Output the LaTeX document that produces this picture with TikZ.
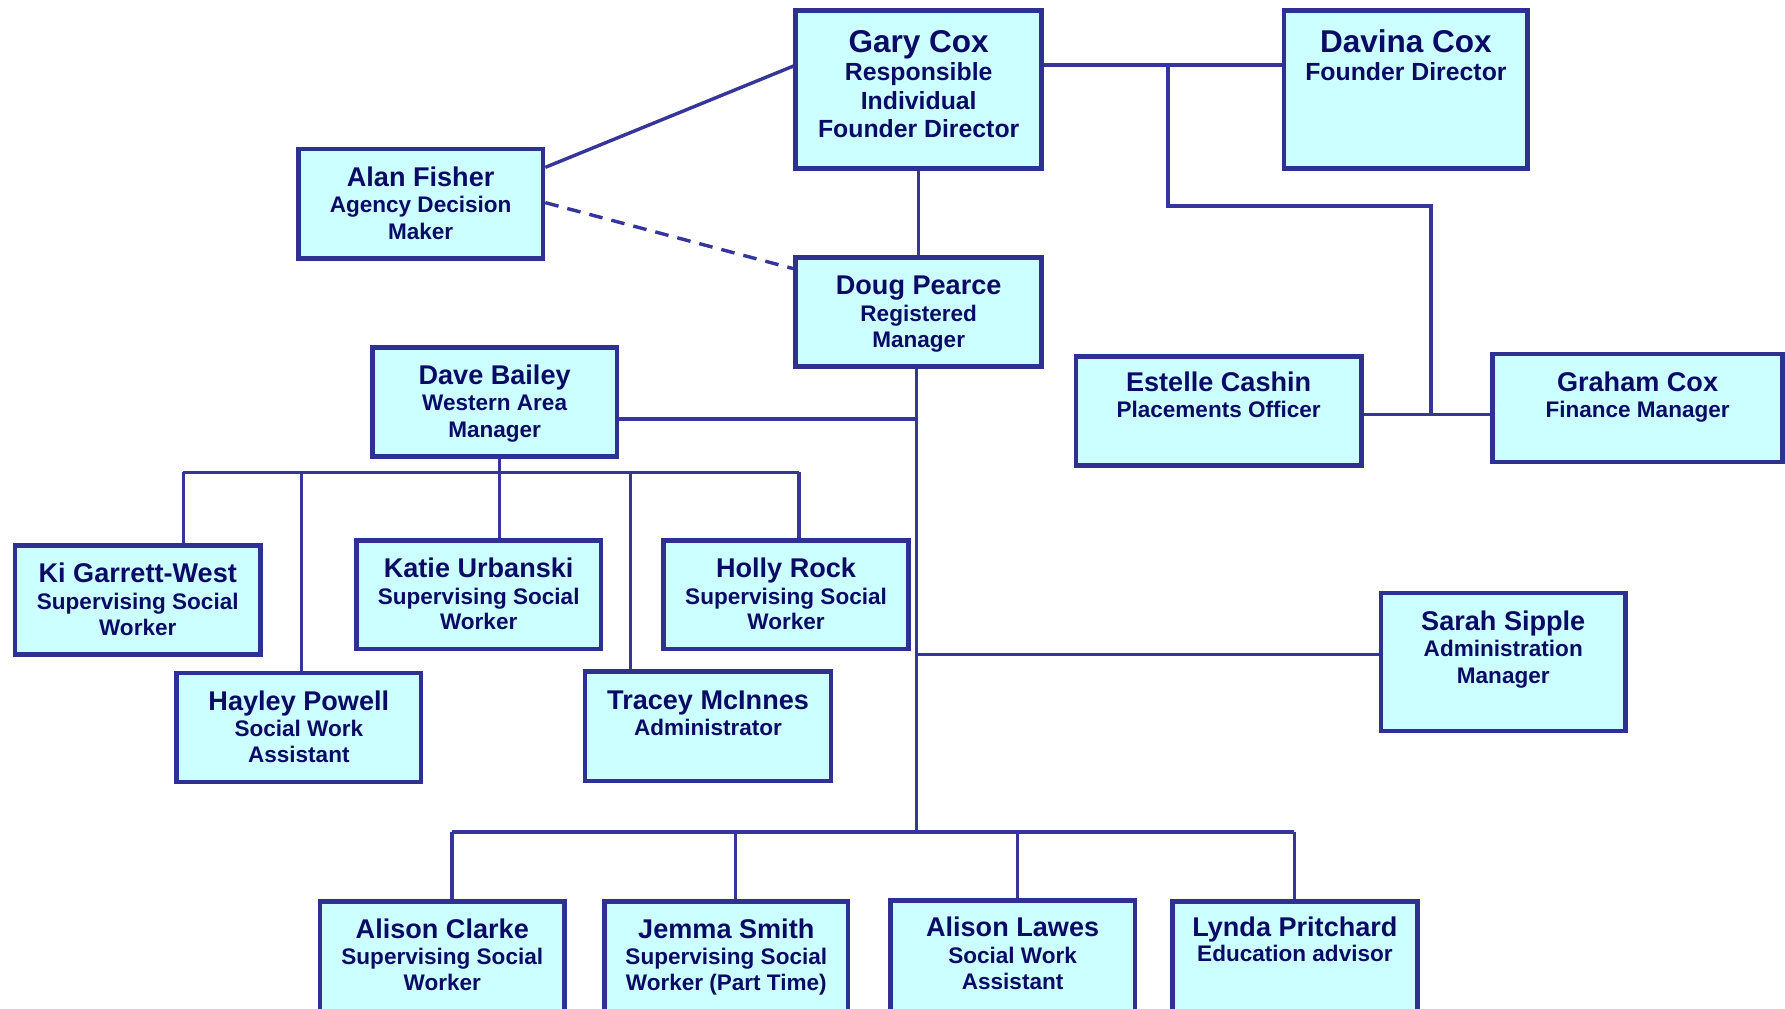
\documentclass[tikz,border=0pt]{standalone}
\usepackage{fontspec}
\setmainfont{Liberation Sans}
\usetikzlibrary{fit,calc}
\definecolor{boxfill}{HTML}{CCFFFF}
\definecolor{boxline}{HTML}{2E3192}
\definecolor{txtc}{HTML}{0B0B66}
\definecolor{linkc}{HTML}{35359A}
\begin{document}
\begin{tikzpicture}[x=0.5pt,y=-0.5pt,
 box/.style={draw=boxline, line width=2pt, fill=boxfill, inner sep=0pt},
 nm/.style={font=\fontsize{11.9}{14}\selectfont\bfseries, text=txtc, anchor=base, inner sep=0pt},
 sb/.style={font=\fontsize{9.9}{12}\selectfont\bfseries, text=txtc, anchor=base, inner sep=0pt},
 bignm/.style={font=\fontsize{13.85}{16}\selectfont\bfseries, text=txtc, anchor=base, inner sep=0pt},
 bigsb/.style={font=\fontsize{10.9}{13}\selectfont\bfseries, text=txtc, anchor=base, inner sep=0pt},
 link/.style={draw=linkc, line width=1.5pt},
 ]
\useasboundingbox (0,0) rectangle (1568,885.5);
\fill[white] (0,0) rectangle (1568,885.5);

% boxes
\node[box, fit={(699,9) (915,148)}] (gary) {};
\node[box, fit={(1128,9) (1342,148)}] (davina) {};
\node[box, fit={(262,131) (477,227)}] (alan) {};
\node[box, fit={(699,226) (915,322)}] (doug) {};
\node[box, fit={(327,305) (542,401)}] (dave) {};
\node[box, fit={(945,313) (1196,409)}] (estelle) {};
\node[box, fit={(1311,311) (1566,406)}] (graham) {};
\node[box, fit={(13,479) (229,575)}] (ki) {};
\node[box, fit={(313,475) (528,570)}] (katie) {};
\node[box, fit={(583,475) (798,570)}] (holly) {};
\node[box, fit={(155,591) (370,687)}] (hayley) {};
\node[box, fit={(514,590) (730,686)}] (tracey) {};
\node[box, fit={(1213,521) (1428,642)}] (sarah) {};
\node[box, fit={(281,792) (496,905)}] (alisonc) {};
\node[box, fit={(531,792) (745,905)}] (jemma) {};
\node[box, fit={(782,791) (997,905)}] (alisonl) {};
\node[box, fit={(1030,792) (1245,905)}] (lynda) {};

% texts
\node[bignm] (gary-n) at (807,46) {Gary Cox};
\node[bigsb] (gary-1) at (807,71) {Responsible};
\node[bigsb] (gary-2) at (807,96) {Individual};
\node[bigsb] (gary-3) at (807,121) {Founder Director};

\node[bignm] (davina-n) at (1235,46) {Davina Cox};
\node[bigsb] (davina-1) at (1235,71) {Founder Director};

\node[nm] (alan-n) at (369.5,164) {Alan Fisher};
\node[sb] (alan-1) at (369.5,187) {Agency Decision};
\node[sb] (alan-2) at (369.5,210) {Maker};

\node[nm] (doug-n) at (807,259) {Doug Pearce};
\node[sb] (doug-1) at (807,282) {Registered};
\node[sb] (doug-2) at (807,305) {Manager};

\node[nm] (dave-n) at (434.5,338) {Dave Bailey};
\node[sb] (dave-1) at (434.5,361) {Western Area};
\node[sb] (dave-2) at (434.5,384) {Manager};

\node[nm] (estelle-n) at (1070.5,344) {Estelle Cashin};
\node[sb] (estelle-1) at (1070.5,367) {Placements Officer};

\node[nm] (graham-n) at (1438.5,344) {Graham Cox};
\node[sb] (graham-1) at (1438.5,367) {Finance Manager};

\node[nm] (ki-n) at (121,512) {Ki Garrett-West};
\node[sb] (ki-1) at (121,535) {Supervising Social};
\node[sb] (ki-2) at (121,558) {Worker};

\node[nm] (katie-n) at (420.5,507) {Katie Urbanski};
\node[sb] (katie-1) at (420.5,531) {Supervising Social};
\node[sb] (katie-2) at (420.5,553) {Worker};

\node[nm] (holly-n) at (690.5,507) {Holly Rock};
\node[sb] (holly-1) at (690.5,531) {Supervising Social};
\node[sb] (holly-2) at (690.5,553) {Worker};

\node[nm] (hayley-n) at (262.5,624) {Hayley Powell};
\node[sb] (hayley-1) at (262.5,647) {Social Work};
\node[sb] (hayley-2) at (262.5,670) {Assistant};

\node[nm] (tracey-n) at (622,623) {Tracey McInnes};
\node[sb] (tracey-1) at (622,646) {Administrator};

\node[nm] (sarah-n) at (1320.5,554) {Sarah Sipple};
\node[sb] (sarah-1) at (1320.5,577) {Administration};
\node[sb] (sarah-2) at (1320.5,600) {Manager};

\node[nm] (alisonc-n) at (388.5,824) {Alison Clarke};
\node[sb] (alisonc-1) at (388.5,847) {Supervising Social};
\node[sb] (alisonc-2) at (388.5,870) {Worker};

\node[nm] (jemma-n) at (638,824) {Jemma Smith};
\node[sb] (jemma-1) at (638,847) {Supervising Social};
\node[sb] (jemma-2) at (638,870) {Worker (Part Time)};

\node[nm] (alisonl-n) at (889.5,823) {Alison Lawes};
\node[sb] (alisonl-1) at (889.5,846) {Social Work};
\node[sb] (alisonl-2) at (889.5,869) {Assistant};

\node[nm] (lynda-n) at (1137.5,823) {Lynda Pritchard};
\node[sb] (lynda-1) at (1137.5,845) {Education advisor};

% connector coordinates
\coordinate (gd) at (1026,57);
\coordinate (fin) at (1257,181);
\coordinate (ef) at (1257,364);
\coordinate (dv) at (805,368);
\coordinate (wb1) at (161,415);
\coordinate (wb2) at (265,415);
\coordinate (wb3) at (439,415);
\coordinate (wb4) at (554,415);
\coordinate (wb5) at (702,415);
\coordinate (sp) at (805,575);
\coordinate (bb1) at (397,731);
\coordinate (bb2) at (646,731);
\coordinate (bb3) at (894,731);
\coordinate (bb4) at (1137,731);
\coordinate (bm) at (805,731);

% connectors
\draw[link] ($(alan.north east)+(0,18)$) -- ($(gary.north west)+(0,51)$);
\draw[link, dash pattern=on 6pt off 4pt] ($(alan.north east)+(0,49)$) -- ($(doug.north west)+(0,12)$);
\draw[link] (gary.south) -- (doug.north);
\draw[link] (gd -| gary.east) -- (gd -| davina.west);
\draw[link] (gd) |- (fin) -- (ef);
\draw[link] (ef -| estelle.east) -- (ef -| graham.west);
\draw[link] (bm |- doug.south) -- (bm);
\draw[link] (dv -| dave.east) -- (dv);
\draw[link] (wb1) -- (wb5);
\draw[link] (wb1) -- (wb1 |- ki.north);
\draw[link] (wb2) -- (wb2 |- hayley.north);
\draw[link] (wb3 |- dave.south) -- (wb3 |- katie.north);
\draw[link] (wb4) -- (wb4 |- tracey.north);
\draw[link] (wb5) -- (wb5 |- holly.north);
\draw[link] (sp) -- (sp -| sarah.west);
\draw[link] (bb1) -- (bb4);
\draw[link] (bb1) -- (bb1 |- alisonc.north);
\draw[link] (bb2) -- (bb2 |- jemma.north);
\draw[link] (bb3) -- (bb3 |- alisonl.north);
\draw[link] (bb4) -- (bb4 |- lynda.north);
\end{tikzpicture}
\end{document}
